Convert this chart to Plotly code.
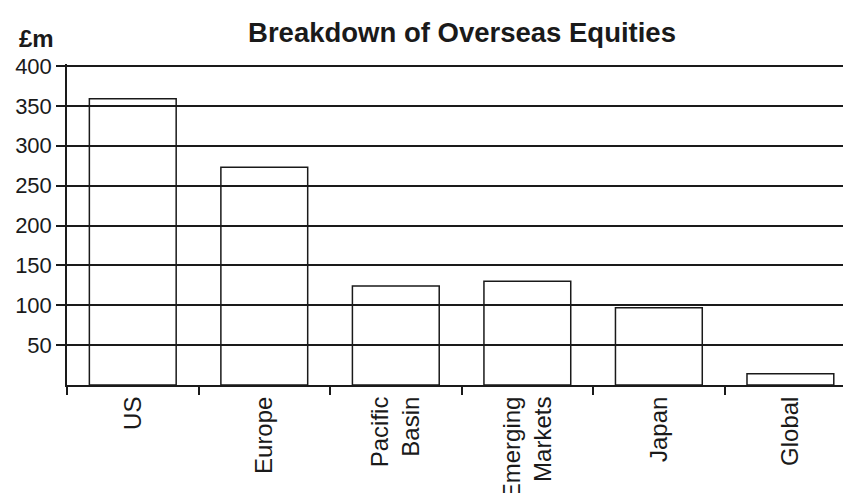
import plotly.graph_objects as go

categories = ["US", "Europe", "Pacific<br>Basin", "Emerging<br>Markets", "Japan", "Global"]
values = [359, 273, 124, 130, 97, 14]
ytick_vals = [50, 100, 150, 200, 250, 300, 350, 400]

FONT = "Arial, Liberation Sans, sans-serif"
INK = "#1a1a1a"

fig = go.Figure(go.Bar(
    x=categories,
    y=values,
    marker=dict(color="rgba(0,0,0,0)", line=dict(color=INK, width=1.5)),
))

fig.update_layout(
    width=843, height=493,
    margin=dict(l=67, r=0, t=64, b=108, autoexpand=False),
    paper_bgcolor="white", plot_bgcolor="white",
    bargap=0.34,
    showlegend=False,
    font=dict(family=FONT, size=22, color=INK),
    title=dict(text="<b>Breakdown of Overseas Equities</b>", x=462/843, xanchor="center",
               xref="container", y=1 - 32/493, yanchor="middle",
               font=dict(size=27.5, family=FONT, color=INK)),
    annotations=[dict(text="<b>£m</b>", xref="paper", yref="paper", x=(17 - 67)/776,
                      xanchor="left", y=(385 - 38)/321, yanchor="middle", showarrow=False,
                      font=dict(size=24, family=FONT, color=INK))],
)

fig.update_xaxes(
    range=[-0.5, 5.40],
    automargin=False,
    showline=True, linecolor=INK, linewidth=2,
    ticks="outside", tickson="boundaries", ticklen=8, tickcolor=INK, tickwidth=1.5,
    tickangle=-90, showgrid=False,
    tickfont=dict(size=24, family=FONT, color=INK),
)
fig.update_yaxes(
    range=[0, 402.5],
    automargin=False,
    tickvals=ytick_vals,
    showline=True, linecolor=INK, linewidth=1.5,
    ticks="outside", ticklen=9, tickcolor=INK, tickwidth=1.5,
    showgrid=True, gridcolor=INK, gridwidth=1.5,
    zeroline=False,
    tickfont=dict(size=22, family=FONT, color=INK),
)

fig.write_html("out.html")
